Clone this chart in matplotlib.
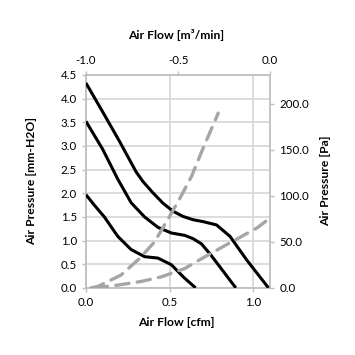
import matplotlib
matplotlib.use("Agg")
import matplotlib.pyplot as plt
from matplotlib.ticker import FormatStrFormatter

plt.rcParams['font.family'] = ['Lato', 'DejaVu Sans']

# Fan curves (Air Flow [cfm] vs Air Pressure [mm-H2O])
a_x = [0, 0.10, 0.20, 0.30, 0.34, 0.40, 0.46, 0.52, 0.58, 0.64, 0.70, 0.78, 0.86, 0.96, 1.09]
a_y = [4.33, 3.72, 3.10, 2.45, 2.25, 2.01, 1.79, 1.62, 1.51, 1.44, 1.40, 1.33, 1.09, 0.59, 0.0]
b_x = [0, 0.10, 0.19, 0.27, 0.35, 0.43, 0.51, 0.59, 0.64, 0.69, 0.745, 0.82, 0.895]
b_y = [3.52, 2.93, 2.30, 1.80, 1.50, 1.28, 1.16, 1.11, 1.04, 0.93, 0.70, 0.35, 0.0]
c_x = [0, 0.05, 0.11, 0.19, 0.27, 0.35, 0.43, 0.51, 0.585, 0.655]
c_y = [1.97, 1.75, 1.50, 1.09, 0.81, 0.66, 0.63, 0.49, 0.22, 0.0]

# System impedance curves (Air Pressure [Pa])
d_x = [0.03, 0.07, 0.21, 0.32, 0.41, 0.50, 0.56, 0.63, 0.70, 0.79]
d_y = [0, 1.5, 14, 32, 50, 78, 97, 121, 152, 190]
e_x = [0.05, 0.19, 0.33, 0.45, 0.59, 0.66, 0.82, 1.02, 1.10]
e_y = [0, 3, 7, 12, 21, 28.6, 45, 65, 76]

x_ticks = [0.0, 0.5, 1.0]
y_ticks = [0.0, 0.5, 1.0, 1.5, 2.0, 2.5, 3.0, 3.5, 4.0, 4.5]
pa_ticks = [0, 50, 100, 150, 200]
top_ticks = [-1.0, -0.5, 0.0]

fig = plt.figure(figsize=(3.55, 3.55), dpi=100)
ax = fig.add_axes([0.242, 0.189, 0.519, 0.600])
grid_c = '#d9d9d9'
tick_c = '#bfbfbf'
ax.set_xlim(0, 1.1)
ax.set_ylim(0, 4.5)
ax.set_xticks(x_ticks)
ax.set_yticks(y_ticks)
ax.xaxis.set_major_formatter(FormatStrFormatter('%.1f'))
ax.yaxis.set_major_formatter(FormatStrFormatter('%.1f'))
ax.grid(True, color=grid_c, lw=1.3)
for s in ax.spines.values():
    s.set_color(tick_c)
    s.set_linewidth(1.3)
ax.tick_params(colors=tick_c, labelcolor='black', labelsize=8.3, length=3, width=1)

lc = 'black'
for xs, ys in ((a_x, a_y), (b_x, b_y), (c_x, c_y)):
    ax.plot(xs, ys, color=lc, lw=2.2, zorder=3, solid_capstyle='butt',
            solid_joinstyle='round')

ax2 = ax.twinx()
ax2.set_ylim(0, 231.5)
ax2.set_yticks(pa_ticks)
ax2.yaxis.set_major_formatter(FormatStrFormatter('%.1f'))
ax2.tick_params(colors=tick_c, labelcolor='black', labelsize=8.3, length=3, width=1)
for s in ax2.spines.values():
    s.set_visible(False)
dash_c = '#a6a6a6'
for xs, ys in ((d_x, d_y), (e_x, e_y)):
    ax2.plot(xs, ys, color=dash_c, lw=2.4, dashes=(4, 2.5), zorder=2,
             dash_capstyle='round', solid_joinstyle='round')
ax2.set_xlim(0, 1.1)

sec = ax.secondary_xaxis('top', functions=(lambda x: x / 1.1 - 1.0, lambda t: (t + 1.0) * 1.1))
sec.set_xticks(top_ticks)
sec.xaxis.set_major_formatter(FormatStrFormatter('%.1f'))
sec.tick_params(colors=tick_c, labelcolor='black', labelsize=8.3, length=3, width=1)
sec.spines['top'].set_visible(False)

lab = dict(fontsize=8.7, fontweight='bold')
fig.text(0.497, 0.092, 'Air Flow [cfm]', ha='center', va='center', **lab)
fig.text(0.497, 0.902, 'Air Flow [m³/min]', ha='center', va='center', **lab)
fig.text(0.090, 0.49, 'Air Pressure [mm-H2O]', ha='center', va='center', rotation=90, **lab)
fig.text(0.918, 0.49, 'Air Pressure [Pa]', ha='center', va='center', rotation=90, **lab)

fig.savefig('out.png', dpi=100)
